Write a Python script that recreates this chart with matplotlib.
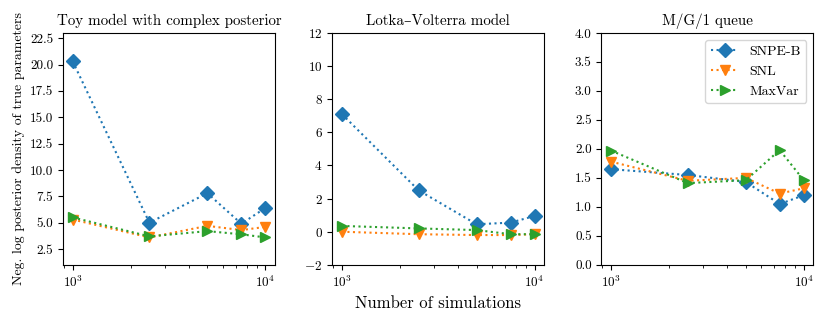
import numpy as np
from matplotlib import pyplot as plt

plt.rcParams["font.family"] = ["cmr10", "DejaVu Serif"]
plt.rcParams["mathtext.fontset"] = "cm"
plt.rcParams["axes.formatter.use_mathtext"] = True
plt.rcParams["font.size"] = 10
plt.rcParams["xtick.labelsize"] = 9.5
plt.rcParams["ytick.labelsize"] = 9.5

n_sims = [1000, 2500, 5000, 7500, 10000]

toy_snpe = [20.3, 5.0, 7.8, 4.9, 6.4]
toy_snl = [5.3, 3.6, 4.7, 4.3, 4.6]
toy_maxvar = [5.5, 3.7, 4.2, 3.9, 3.6]

lv_snpe = [7.1, 2.5, 0.45, 0.55, 0.95]
lv_snl = [0.0, -0.15, -0.2, -0.2, -0.15]
lv_maxvar = [0.35, 0.2, 0.1, -0.15, -0.15]

mg1_snpe = [1.65, 1.55, 1.43, 1.05, 1.2]
mg1_snl = [1.78, 1.45, 1.5, 1.23, 1.32]
mg1_maxvar = [1.97, 1.41, 1.46, 1.98, 1.46]

titles = ["Toy model with complex posterior", "Lotka\u2013Volterra model", "M/G/1 queue"]
data = [
    (toy_snpe, toy_snl, toy_maxvar),
    (lv_snpe, lv_snl, lv_maxvar),
    (mg1_snpe, mg1_snl, mg1_maxvar),
]
ylims = [(1.0, 23.0), (-2, 12), (0, 4)]
yticks = [np.arange(2.5, 22.6, 2.5), np.arange(-2, 12.1, 2), np.arange(0, 4.01, 0.5)]

fig, axes = plt.subplots(1, 3, figsize=(8.3, 3.23), dpi=100)
fig.subplots_adjust(left=0.076, right=0.98, top=0.898, bottom=0.18, wspace=0.27)

for ax, title, (snpe, snl, maxvar), yl, yt in zip(axes, titles, data, ylims, yticks):
    ax.plot(n_sims, snpe, ":", marker="D", color="C0", markersize=7, label="SNPE-B")
    ax.plot(n_sims, snl, ":", marker="v", color="C1", markersize=7, label="SNL")
    ax.plot(n_sims, maxvar, ":", marker=">", color="C2", markersize=7, label="MaxVar")
    ax.set_xscale("log")
    ax.set_title(title, fontsize=10.8)
    ax.set_ylim(*yl)
    ax.set_yticks(yt)
    if title == "M/G/1 queue":
        ax.set_yticklabels(["%.1f" % v for v in yt])

axes[0].set_yticklabels(["%.1f" % v for v in yticks[0]])
axes[0].set_ylabel("Neg. log posterior density of true parameters", fontsize=10)
axes[1].set_xlabel("Number of simulations", fontsize=12)
axes[2].legend(loc="upper right", fontsize=10)

plt.savefig("out.png", dpi=100)
